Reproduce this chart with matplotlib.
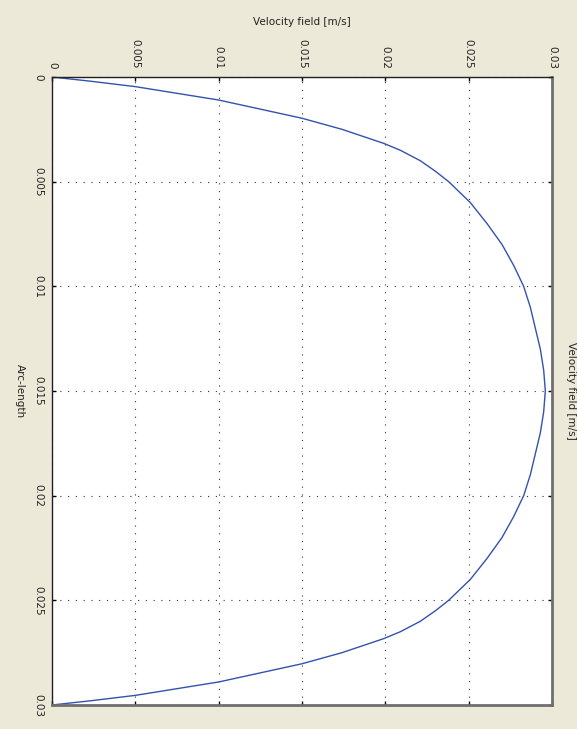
import matplotlib.pyplot as plt
import numpy as np

# Arc-length (m) and velocity (m/s)
arc = [0, 0.0002, 0.00046, 0.0011, 0.00197, 0.0025, 0.00317, 0.0035, 0.004, 0.0045,
       0.005, 0.006, 0.007, 0.008, 0.009, 0.01, 0.011, 0.012, 0.013, 0.014, 0.015,
       0.016, 0.017, 0.018, 0.019, 0.02, 0.021, 0.022, 0.023, 0.024, 0.025,
       0.0255, 0.026, 0.0265, 0.02683, 0.0275, 0.02803, 0.0289, 0.02954, 0.0298, 0.03]
vel = [0, 0.0023, 0.005, 0.01, 0.015, 0.0174, 0.0199, 0.0209, 0.0221, 0.023,
       0.0238, 0.0251, 0.0261, 0.027, 0.0277, 0.0283, 0.0287, 0.029, 0.0293, 0.0295, 0.0296,
       0.0295, 0.0293, 0.029, 0.0287, 0.0283, 0.0277, 0.027, 0.0261, 0.0251, 0.0238,
       0.023, 0.0221, 0.0209, 0.0199, 0.0174, 0.015, 0.01, 0.005, 0.0023, 0]

ticks = [0, 0.005, 0.01, 0.015, 0.02, 0.025, 0.03]
tick_labels = ['0', '0.005', '0.01', '0.015', '0.02', '0.025', '0.03']

fig = plt.figure(figsize=(5.77, 7.29), dpi=100, facecolor='#ECE9D8')
ax = fig.add_axes([52/577, 1 - 705/729, 500/577, 628/729])
ax.set_facecolor('white')

ax.plot(vel, arc, color='#3352ad', lw=1)

ax.set_xlim(0, 0.03)
ax.set_ylim(0.03, 0)
ax.set_xticks(ticks)
ax.set_yticks(ticks)
ax.set_xticklabels(tick_labels, rotation=-90, fontsize=7.5, color='#222222')
ax.set_yticklabels(tick_labels, rotation=-90, fontsize=7.5, color='#222222', va='center')
ax.xaxis.tick_top()
ax.tick_params(direction='in', length=3, width=1, top=True, bottom=True, left=True, right=True,
               labeltop=True, labelbottom=False, pad=6)
ax.grid(True, color='#333333', linestyle=(0, (1, 6)), linewidth=0.8)

for s in ['left', 'top']:
    ax.spines[s].set_color('#222222')
    ax.spines[s].set_linewidth(1)
for s in ['right', 'bottom']:
    ax.spines[s].set_color('#6f6f6f')
    ax.spines[s].set_linewidth(2)

ax.set_xlabel('Velocity field [m/s]', fontsize=7.5, color='#222222')
ax.xaxis.set_label_position('top')
ax.xaxis.set_label_coords(0.5, 1 + 52/628)
ax.set_ylabel('Arc-length', fontsize=7.5, color='#222222', rotation=-90, va='center')
ax.yaxis.set_label_coords(-32/500, 0.5)
ax.text(1 + 19/500, 0.5, 'Velocity field [m/s]', transform=ax.transAxes, rotation=-90,
        ha='center', va='center', fontsize=7.5, color='#222222')

plt.savefig('out.png', dpi=100, facecolor=fig.get_facecolor())
